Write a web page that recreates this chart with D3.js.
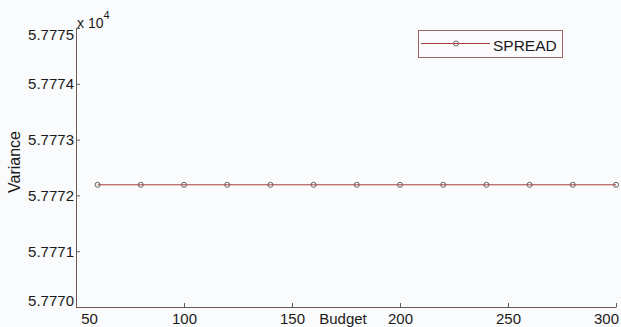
<!DOCTYPE html>
<html>
<head>
<meta charset="utf-8">
<script src="https://cdn.jsdelivr.net/npm/d3@7"></script>
<style>
  html, body { margin: 0; padding: 0; background: #fafbfd; }
  svg { display: block; font-family: "Liberation Sans", Arial, sans-serif; }
</style>
</head>
<body>
<svg id="chart" width="621" height="327"></svg>
<script>
// Budget levels and the SPREAD variance measured at each one
const budgets = [60, 80, 100, 120, 140, 160, 180, 200, 220, 240, 260, 280, 300];
const variance = [57772.19, 57772.19, 57772.19, 57772.19, 57772.19, 57772.19, 57772.19,
                  57772.19, 57772.19, 57772.19, 57772.19, 57772.19, 57772.19];
const seriesName = "SPREAD";

// Axis ticks
const xTicks = [50, 100, 150, 200, 250, 300];
const yTicks = [57770, 57771, 57772, 57773, 57774, 57775];

const svg = d3.select("#chart");
const plotLeft = 76, plotRight = 616, plotTop = 28, plotBottom = 307;

const x = d3.scaleLinear().domain([50, 300]).range([plotLeft, plotRight]);
const y = d3.scaleLinear().domain([57770, 57775]).range([plotBottom, plotTop]);

const axisColor = "#6b5a52";
const textColor = "#1a1a1a";

// Y axis (values shown in units of 10^4)
const yAxis = svg.append("g")
  .attr("transform", `translate(${plotLeft},0)`)
  .call(d3.axisLeft(y).tickValues(yTicks)
    .tickFormat(d => (d / 1e4).toFixed(4))
    .tickSizeInner(-4).tickSizeOuter(0).tickPadding(2));
yAxis.select(".domain").attr("stroke", axisColor);
yAxis.selectAll(".tick line").attr("stroke", axisColor);
yAxis.selectAll(".tick text")
  .attr("fill", textColor).style("font-size", "15px")
  .attr("dy", (d, i) => i === 0 ? "-0.1em" : (i === yTicks.length - 1 ? "0.75em" : "0.34em"));

// X axis
const xAxis = svg.append("g")
  .attr("transform", `translate(0,${plotBottom})`)
  .call(d3.axisBottom(x).tickValues(xTicks)
    .tickSizeInner(-4).tickSizeOuter(0).tickPadding(6));
xAxis.select(".domain").attr("stroke", axisColor);
xAxis.selectAll(".tick line").attr("stroke", axisColor);
xAxis.selectAll(".tick text")
  .attr("fill", textColor).style("font-size", "15px")
  .attr("dx", (d, i) => i === 0 ? 13 : (i === xTicks.length - 1 ? -10 : 0));

// Exponent marker for the y axis
const expo = svg.append("text")
  .attr("x", plotLeft + 1).attr("y", 28)
  .attr("fill", textColor).style("font-size", "14px");
expo.append("tspan").text("x 10");
expo.append("tspan").attr("dy", -9).style("font-size", "11px").text("4");

// Axis titles
svg.append("text")
  .attr("x", 343).attr("y", 324)
  .attr("text-anchor", "middle")
  .attr("fill", textColor).style("font-size", "15px")
  .text("Budget");
svg.append("text")
  .attr("transform", "translate(20,162) rotate(-90)")
  .attr("text-anchor", "middle")
  .attr("fill", textColor).style("font-size", "16px")
  .text("Variance");

// Series line and markers
const lineColor = "#a83a3a";
const markerColor = "#6e5c5c";
const points = budgets.map((b, i) => [b, variance[i]]);
svg.append("path")
  .datum(points)
  .attr("fill", "none")
  .attr("stroke", lineColor)
  .attr("stroke-width", 1)
  .attr("d", d3.line().x(d => x(d[0])).y(d => y(d[1])));
svg.append("g").selectAll("circle")
  .data(points)
  .join("circle")
  .attr("cx", d => x(d[0])).attr("cy", d => y(d[1]))
  .attr("r", 2.5)
  .attr("fill", "none")
  .attr("stroke", markerColor)
  .attr("stroke-width", 1);

// Legend
const legend = svg.append("g");
legend.append("rect")
  .attr("x", 418.5).attr("y", 30.5).attr("width", 144).attr("height", 27)
  .attr("fill", "#fcfcfe").attr("stroke", "#a0675e").attr("stroke-width", 1);
legend.append("line")
  .attr("x1", 421).attr("x2", 490).attr("y1", 43.5).attr("y2", 43.5)
  .attr("stroke", lineColor).attr("stroke-width", 1);
legend.append("circle")
  .attr("cx", 456).attr("cy", 43.5).attr("r", 2.5)
  .attr("fill", "none").attr("stroke", markerColor).attr("stroke-width", 1);
legend.append("text")
  .attr("x", 493).attr("y", 50.5)
  .attr("fill", textColor).style("font-size", "15.5px")
  .text(seriesName);
</script>
</body>
</html>
